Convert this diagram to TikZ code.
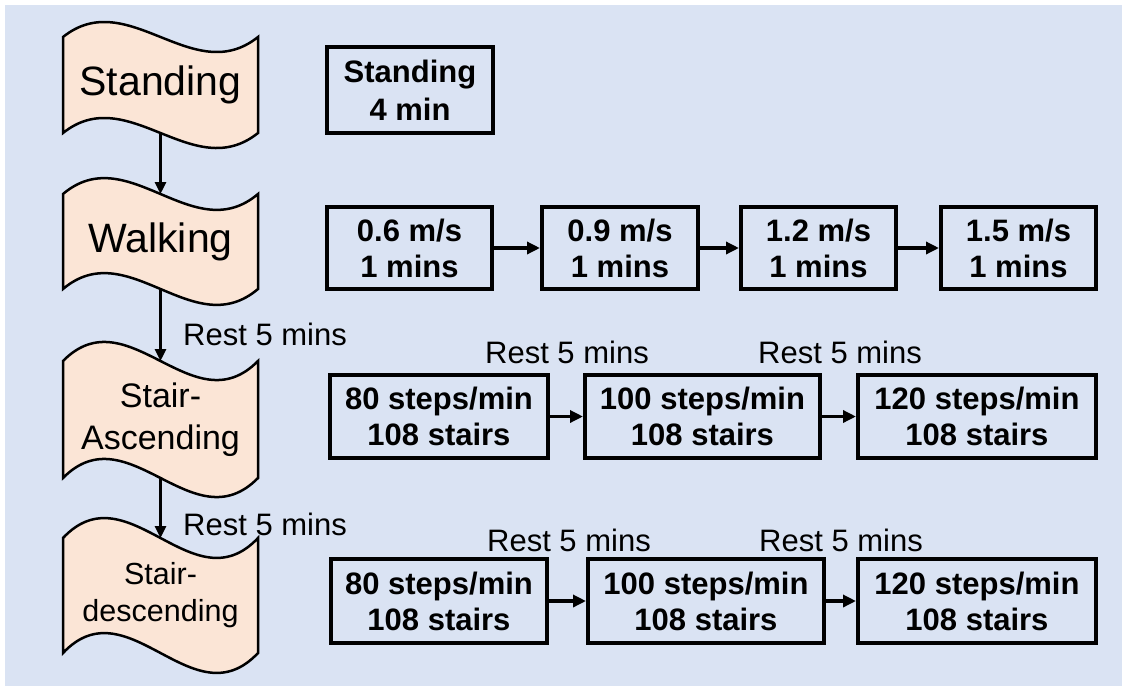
\documentclass[tikz,border=0pt]{standalone}
\usepackage{fontspec}
\setmainfont{Liberation Sans}
\usetikzlibrary{arrows.meta,backgrounds}
\definecolor{bgblue}{HTML}{DAE3F3}
\definecolor{peach}{HTML}{FBE5D6}
\newcommand\wavepath[2]{%
  \draw[wave] (#1.north west) .. controls +(65,-#2) and +(-65,#2) .. (#1.north east)
    -- (#1.south east) .. controls +(-65,#2) and +(65,-#2) .. (#1.south west) -- cycle;}
\begin{document}
\begin{tikzpicture}[x=1pt,y=-1pt,
  wave/.style={draw=black, line width=2.5pt, fill=peach, line join=miter},
  wavetext/.style={draw=none, inner sep=0pt, outer sep=0pt, align=center, text=black, minimum width=195pt},
  box/.style={draw=black, line width=4pt, inner sep=0pt, outer sep=0pt, align=center, font=\fontsize{31}{36}\selectfont\bfseries},
  rest/.style={inner sep=0pt, font=\fontsize{31}{36}\selectfont},
  harr/.style={line width=3.5pt, shorten >=2pt, -{Triangle[length=13pt,width=12pt]}},
  varr/.style={line width=3pt, -{Triangle[length=12pt,width=11pt]}}]

\useasboundingbox (0,0) rectangle (1122,686);

% left column
\node[wavetext, minimum height=96pt, font=\fontsize{41}{48}\selectfont] (stand) at (160.5,85) {Standing};
\node[wavetext, minimum height=95pt, font=\fontsize{41}{48}\selectfont] (walk) at (160.5,241.5) {Walking};
\node[wavetext, minimum height=117pt, font=\fontsize{34}{42}\selectfont] (asc) at (160.5,419.5) {Stair-\\Ascending};
\node[wavetext, minimum height=115pt, font=\fontsize{30.5}{37}\selectfont] (desc) at (160.5,595.5) {Stair-\\descending};

\begin{pgfonlayer}{background}
  \fill[bgblue] (5,5) rectangle (1122,686);
  \wavepath{stand}{52}
  \wavepath{walk}{55}
  \wavepath{asc}{66}
  \wavepath{desc}{69}
\end{pgfonlayer}

\draw[varr] (stand.south) -- (walk.north);
\draw[varr] (walk.south) -- (asc.north);
\draw[varr] (asc.south) -- (desc.north);

\node[rest, anchor=west] (rest1) at (183,334) {Rest 5 mins};
\node[rest, anchor=west] (rest2) at (183,524) {Rest 5 mins};

% standing
\node[box, minimum width=166pt, minimum height=86pt, font=\fontsize{31}{38}\selectfont\bfseries] (sbox) at (410,90) {Standing\\4 min};

% walking
\node[box, minimum width=165pt, minimum height=82pt] (w1) at (409.5,248) {0.6 m/s\\1 mins};
\node[box, minimum width=156pt, minimum height=82pt] (w2) at (620,248) {0.9 m/s\\1 mins};
\node[box, minimum width=155pt, minimum height=82pt] (w3) at (818.5,248) {1.2 m/s\\1 mins};
\node[box, minimum width=155pt, minimum height=82pt] (w4) at (1018.5,248) {1.5 m/s\\1 mins};
\draw[harr] (w1) -- (w2);
\draw[harr] (w2) -- (w3);
\draw[harr] (w3) -- (w4);

% ascending
\node[box, minimum width=218pt, minimum height=83pt] (a1) at (439,416.5) {80 steps/min\\108 stairs};
\node[box, minimum width=235pt, minimum height=83pt] (a2) at (702.5,416.5) {100 steps/min\\108 stairs};
\node[box, minimum width=238pt, minimum height=83pt] (a3) at (977,416.5) {120 steps/min\\108 stairs};
\draw[harr] (a1) -- (a2);
\draw[harr] (a2) -- (a3);
\node[rest] (rest3) at (567,352) {Rest 5 mins};
\node[rest] (rest4) at (840,352) {Rest 5 mins};

% descending
\node[box, minimum width=216pt, minimum height=84pt] (d1) at (439,601) {80 steps/min\\108 stairs};
\node[box, minimum width=236pt, minimum height=84pt] (d2) at (706,601) {100 steps/min\\108 stairs};
\node[box, minimum width=238pt, minimum height=84pt] (d3) at (977,601) {120 steps/min\\108 stairs};
\draw[harr] (d1) -- (d2);
\draw[harr] (d2) -- (d3);
\node[rest] (rest5) at (569,540) {Rest 5 mins};
\node[rest] (rest6) at (841,540) {Rest 5 mins};
\end{tikzpicture}
\end{document}
